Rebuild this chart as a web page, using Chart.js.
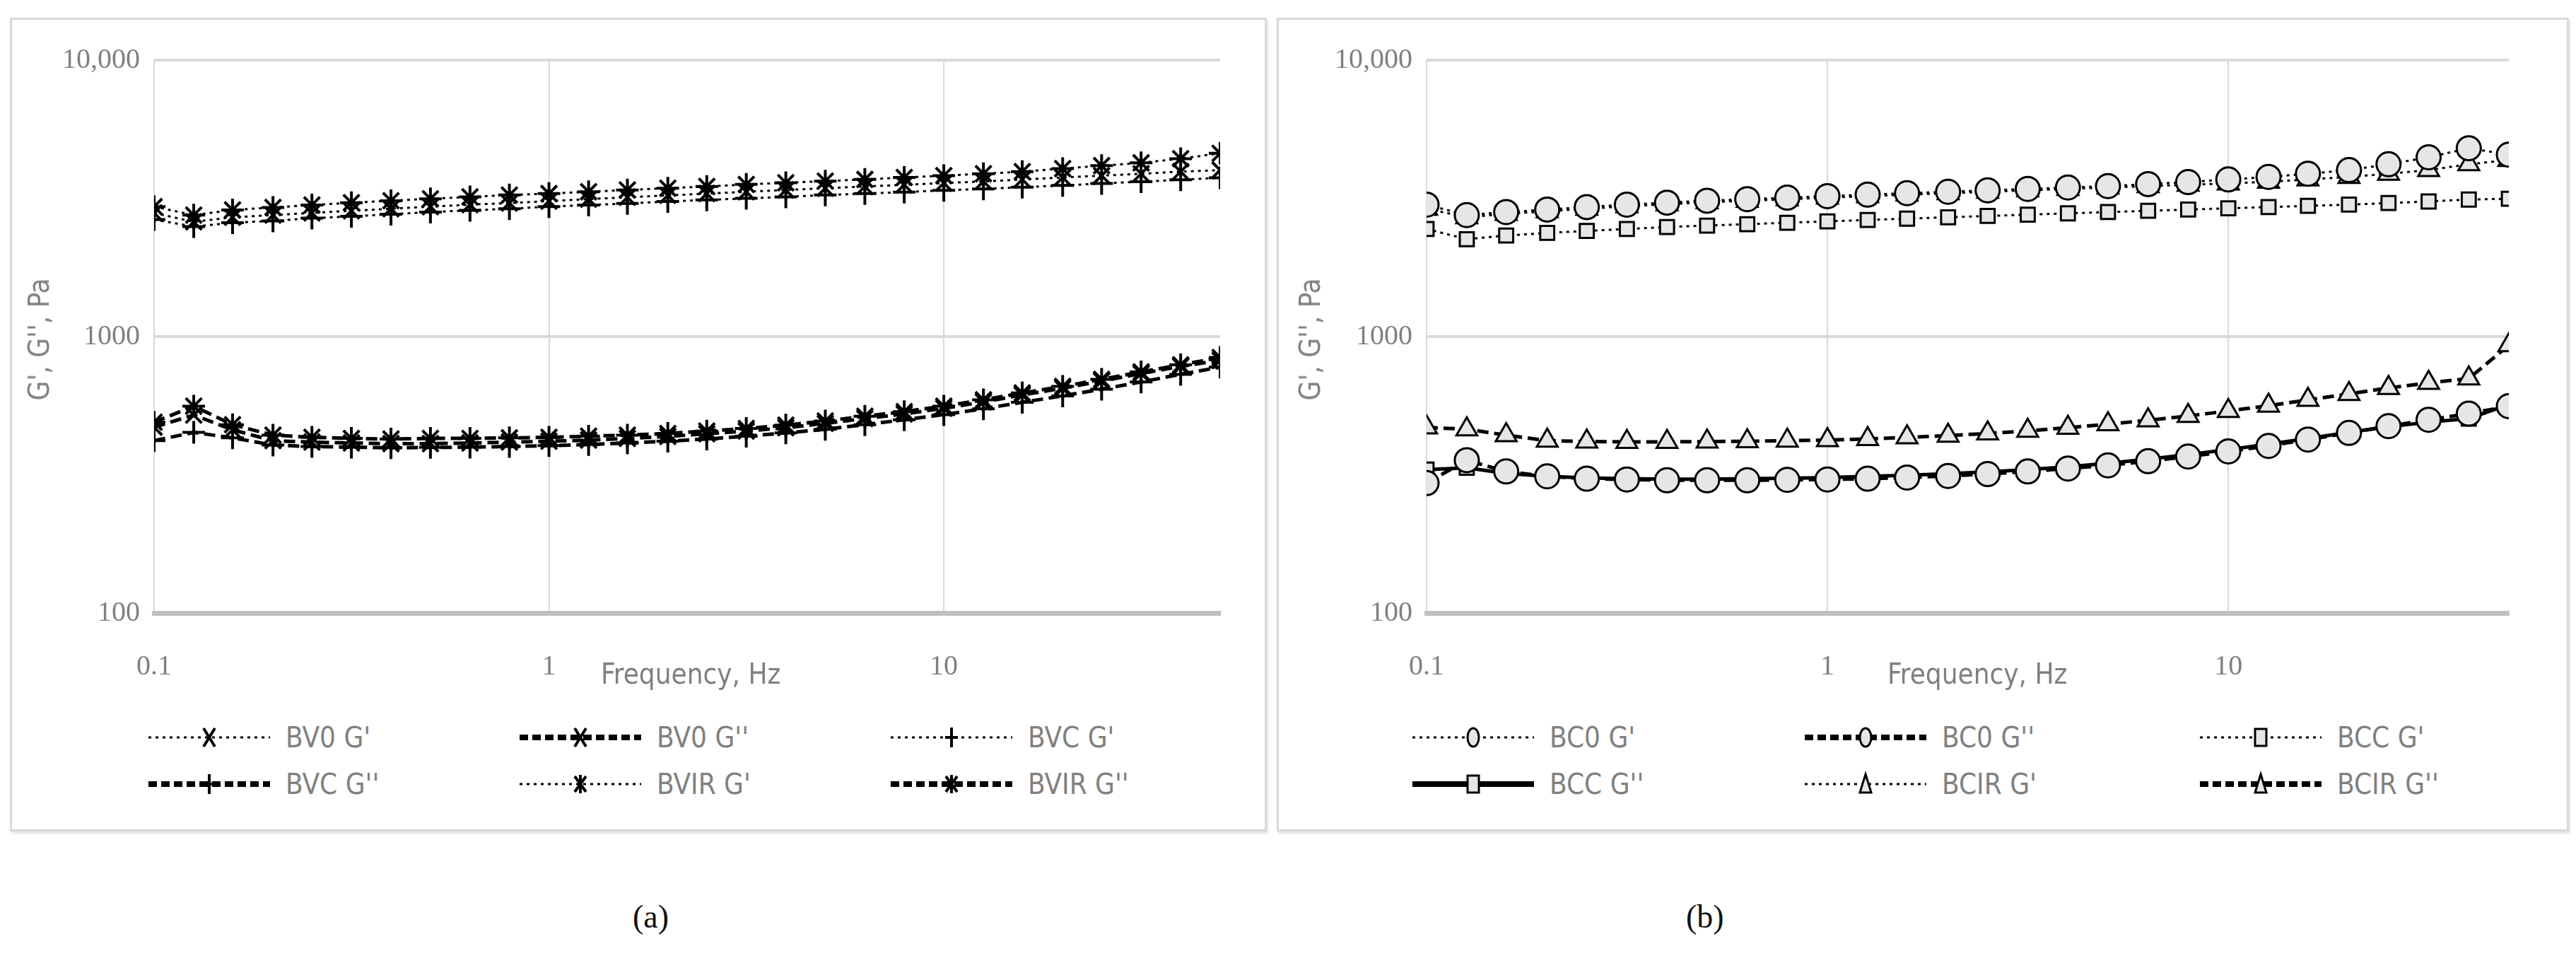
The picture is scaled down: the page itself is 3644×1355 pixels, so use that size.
<!DOCTYPE html>
<html><head><meta charset="utf-8">
<script src="https://cdn.jsdelivr.net/npm/chart.js@4/dist/chart.umd.min.js"></script>
<style>
body{margin:0;width:3644px;height:1355px;background:#fff;position:relative;overflow:hidden;font-family:"Liberation Sans Narrow","DejaVu Sans Condensed",sans-serif;}
.panel{position:absolute;border:3px solid #d9d9d9;box-shadow:2px 3px 3px #e4e4e4;background:#fff;}
.cv{position:absolute;}
.txt{position:absolute;color:#808080;font-size:40px;white-space:nowrap;}
.leg{position:absolute;display:flex;align-items:center;color:#808080;font-size:40px;white-space:nowrap;}
.leg svg{margin-right:22px;}
.cap{position:absolute;font-family:"Liberation Serif",serif;font-size:46px;color:#111;}
</style></head><body>
<div class="panel" style="left:14px;top:25px;width:1772px;height:1145px"></div>
<div class="panel" style="left:1806px;top:25px;width:1822px;height:1145px"></div>
<div class="cv" style="left:0;top:0;width:1790px;height:1000px"><canvas id="ca"></canvas></div>
<div class="cv" style="left:1800px;top:0;width:1840px;height:1000px"><canvas id="cb"></canvas></div>
<div class="txt" style="left:850px;top:930px">Frequency, Hz</div>
<div class="txt" style="left:2670px;top:930px">Frequency, Hz</div>
<div class="txt" style="left:55px;top:480px;transform:translate(-50%,-50%) rotate(-90deg)">G', G'', Pa</div>
<div class="txt" style="left:1853px;top:480px;transform:translate(-50%,-50%) rotate(-90deg)">G', G'', Pa</div>
<div id="legends"></div>
<div class="cap" style="left:895px;top:1270px">(a)</div>
<div class="cap" style="left:2385px;top:1270px">(b)</div>
<script>
const freq=[0.1,0.126,0.158,0.2,0.251,0.316,0.398,0.501,0.631,0.794,1,1.26,1.58,2,2.51,3.16,3.98,5.01,6.31,7.94,10,12.6,15.8,20,25.1,31.6,39.8,50.1];
const xTicks=[0.1,1,10];
const xTickLabels=["0.1","1","10"];
const yTicks=[100,1000,10000];
const yTickLabels=["100","1000","10,000"];
// panel (a)
const BV0_Gp=[2800,2600,2700,2750,2800,2850,2900,2950,3000,3040,3090,3140,3190,3240,3290,3340,3390,3440,3490,3540,3590,3640,3700,3760,3820,3880,3950,4000];
const BV0_Gpp=[470,520,460,420,415,412,410,410,412,415,418,422,428,435,445,455,468,485,505,525,550,580,615,650,690,735,780,820];
const BVC_Gp=[2650,2500,2580,2620,2680,2720,2770,2820,2860,2900,2950,2990,3030,3080,3120,3160,3200,3250,3290,3330,3380,3420,3470,3520,3580,3630,3690,3750];
const BVC_Gpp=[420,450,430,405,400,398,396,397,398,400,403,407,412,418,426,436,448,462,480,500,522,548,578,610,645,685,730,775];
const BVIR_Gp=[2950,2750,2870,2930,2990,3050,3100,3150,3200,3250,3290,3340,3390,3440,3490,3550,3600,3650,3700,3760,3820,3880,3950,4050,4150,4250,4400,4600];
const BVIR_Gpp=[490,560,480,440,432,428,426,428,428,430,432,436,440,446,455,465,478,495,515,535,560,590,625,660,700,745,790,840];
// panel (b)
const BC0_Gp=[3000,2750,2820,2880,2940,3000,3050,3100,3140,3180,3220,3260,3300,3340,3380,3420,3460,3500,3560,3620,3700,3780,3880,4000,4200,4450,4800,4550];
const BC0_Gpp=[295,357,325,312,306,304,302,302,302,303,304,306,309,313,318,325,333,342,354,368,384,402,424,448,474,500,526,560];
const BCC_Gp=[2450,2250,2320,2370,2410,2450,2490,2520,2550,2580,2610,2640,2670,2700,2730,2760,2790,2820,2850,2880,2910,2940,2970,3000,3040,3080,3130,3150];
const BCC_Gpp=[330,335,320,312,308,306,305,305,306,307,309,312,315,319,324,330,338,348,360,374,390,408,428,450,472,490,505,568];
const BCIR_Gp=[2900,2700,2780,2840,2900,2960,3010,3060,3100,3140,3180,3220,3260,3300,3340,3380,3420,3460,3500,3540,3580,3630,3700,3780,3880,4000,4200,4350];
const BCIR_Gpp=[469,462,440,420,417,416,416,417,418,420,422,426,432,438,446,456,468,482,498,516,538,562,590,620,652,680,705,930];

const DOT=[4,6], DASH=[16,8];
const FILL='#e6e6e6';
function ds(label,vals,style,line,fill){
  const dashed=line==='dash', solid=line==='solid';
  return {label,data:freq.map((f,i)=>({x:f,y:vals[i]})),borderColor:'#000',
    borderWidth:(dashed||solid)?5:3,borderDash:solid?[]:(dashed?DASH:DOT),
    pointStyle:style,pointRadius:style==='rect'?14:(fill?17:16),pointBorderWidth:fill?3:4,
    pointBorderColor:'#000',pointBackgroundColor:fill?FILL:'#000',tension:0,fill:false,lineDash:line};
}
function makeChart(id,sets,padRight){
  new Chart(document.getElementById(id),{type:'line',data:{datasets:sets},
    options:{responsive:true,maintainAspectRatio:false,animation:false,
      layout:{padding:{left:0,right:padRight,top:85,bottom:0}},
      plugins:{legend:{display:false},tooltip:{enabled:false}},
      scales:{
        x:{type:'logarithmic',min:0.1,max:50.1,
          afterBuildTicks:a=>{a.ticks=xTicks.map(v=>({value:v}));},
          afterFit:s=>{s.height=133;},
          ticks:{padding:52,autoSkip:false,maxRotation:0,color:'#808080',font:{family:'Liberation Sans Narrow',size:40},
            callback:(v)=>{const i=xTicks.indexOf(v);return i>=0?xTickLabels[i]:'';}},
          grid:{color:'#d9d9d9',lineWidth:2,drawTicks:false},
          border:{color:'#c0c0c0',width:7}},
        y:{type:'logarithmic',min:100,max:10000,
          afterBuildTicks:a=>{a.ticks=yTicks.map(v=>({value:v}));},
          afterFit:s=>{s.width=218;},
          ticks:{padding:20,color:'#808080',font:{family:'Liberation Sans Narrow',size:40},
            callback:(v)=>{const i=yTicks.indexOf(v);return i>=0?yTickLabels[i]:'';}},
          grid:{color:'#d9d9d9',lineWidth:4,drawTicks:false},
          border:{display:false}}
      }}});
}
const setsA=[ds("BV0 G'",BV0_Gp,'crossRot','dot'),ds("BV0 G''",BV0_Gpp,'crossRot','dash'),
  ds("BVC G'",BVC_Gp,'cross','dot'),ds("BVC G''",BVC_Gpp,'cross','dash'),
  ds("BVIR G'",BVIR_Gp,'star','dot'),ds("BVIR G''",BVIR_Gpp,'star','dash')];
const setsB=[ds("BC0 G'",BC0_Gp,'circle','dot',true),ds("BC0 G''",BC0_Gpp,'circle','dash',true),
  ds("BCC G'",BCC_Gp,'rect','dot',true),ds("BCC G''",BCC_Gpp,'rect','solid',true),
  ds("BCIR G'",BCIR_Gp,'triangle','dot',true),ds("BCIR G''",BCIR_Gpp,'triangle','dash',true)];
makeChart('ca',setsA,64);
makeChart('cb',setsB,91);

function marker(style){
  const c=86,m=20;
  switch(style){
    case 'crossRot':return `<path d="M${c-8} ${m-13}L${c+8} ${m+13}M${c+8} ${m-13}L${c-8} ${m+13}" stroke="#000" stroke-width="4"/>`;
    case 'cross':return `<path d="M${c} ${m-14}V${m+14}M${c-9} ${m}H${c+9}" stroke="#000" stroke-width="4"/>`;
    case 'star':return `<path d="M${c} ${m-13}V${m+13}M${c-8} ${m-11}L${c+8} ${m+11}M${c+8} ${m-11}L${c-8} ${m+11}" stroke="#000" stroke-width="4"/>`;
    case 'circle':return `<ellipse cx="${c}" cy="${m}" rx="8" ry="13" fill="${FILL}" stroke="#000" stroke-width="3"/>`;
    case 'rect':return `<rect x="${c-8}" y="${m-12}" width="16" height="24" fill="${FILL}" stroke="#000" stroke-width="3"/>`;
    case 'triangle':return `<path d="M${c} ${m-14}L${c+8} ${m+12}H${c-8}Z" fill="${FILL}" stroke="#000" stroke-width="3"/>`;
  }
}
function legendItem(d,x,y){
  const dash=d.lineDash==='dash'?'12 6':(d.lineDash==='solid'?'':'4 6');
  const w=d.lineDash==='dot'?3:8;
  const el=document.createElement('div');el.className='leg';
  el.style.left=x+'px';el.style.top=(y-22)+'px';
  el.innerHTML=`<svg width="172" height="40"><line x1="0" y1="20" x2="172" y2="20" stroke="#000" stroke-width="${w}" stroke-dasharray="${dash}"/>${marker(d.pointStyle)}</svg><span>${d.label}</span>`;
  document.getElementById('legends').appendChild(el);
}
const colsA=[210,735,1260], colsB=[1998,2553,3112], rows=[1042,1108];
setsA.forEach((d,i)=>legendItem(d,colsA[i%3],rows[Math.floor(i/3)]));
setsB.forEach((d,i)=>legendItem(d,colsB[i%3],rows[Math.floor(i/3)]));
</script>
</body></html>
